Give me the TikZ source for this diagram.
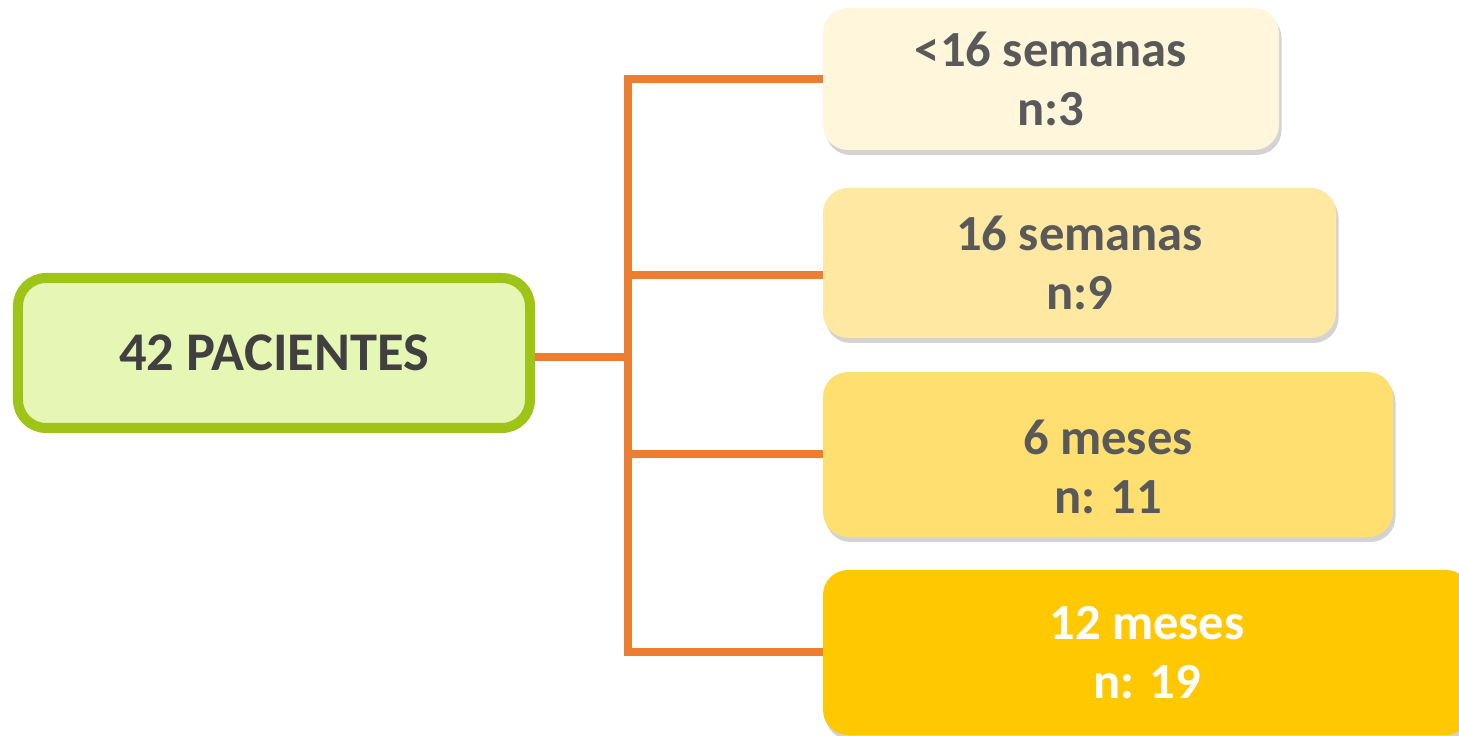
\documentclass[tikz,border=0pt]{standalone}
\usepackage{fontspec}
\setmainfont{Carlito}
\usetikzlibrary{shadows}

\definecolor{linkorange}{HTML}{ED7D31}
\definecolor{rootgreen}{HTML}{9FC418}
\definecolor{rootfill}{HTML}{E6F6B4}
\definecolor{textgrey}{HTML}{595959}
\definecolor{rootgrey}{HTML}{404040}
\definecolor{stageA}{HTML}{FFF6DC}
\definecolor{stageB}{HTML}{FFE9A2}
\definecolor{stageC}{HTML}{FFDF70}
\definecolor{stageD}{HTML}{FFC800}

\begin{document}
\begin{tikzpicture}[%
        font = \bfseries\fontsize{28.8}{33.6}\selectfont,
        stage/.style = {rounded corners=0.5cm, align=center, text=textgrey,
            inner sep=0pt, outer sep=0pt,
            drop shadow={shadow xshift=0.05cm, shadow yshift=-0.1cm, opacity=0.35}},
        link/.style = {draw=linkorange, line width=0.16cm}
    ]
      \useasboundingbox (0,0) rectangle (29.18,14.72);
      % patients in the study
      \node (root) at (5.48,7.66) [draw=rootgreen, line width=0.2cm, fill=rootfill,
          rounded corners=0.56cm, minimum width=10.24cm, minimum height=3cm,
          text=rootgrey, font=\bfseries\fontsize{31}{36}\selectfont] {42 PACIENTES};
      % follow-up groups
      \node (s1) at (21.02,13.14) [stage, fill=stageA, minimum width=9.12cm,
          minimum height=2.84cm] {<16 semanas\\n:3};
      \node (s2) at (21.59,9.46) [stage, fill=stageB, minimum width=10.26cm,
          minimum height=3cm] {16 semanas\\n:9};
      \node (s3) at (22.16,5.63) [stage, fill=stageC, minimum width=11.4cm,
          minimum height=3.3cm] {\rule{0pt}{1.2cm}6 meses\\n: 11};
      \node (s4) at (22.94,1.67) [stage, fill=stageD, minimum width=12.96cm,
          minimum height=3.3cm, text=white] {12 meses\\n: 19};
      % connectors
      \coordinate (spine) at (12.56,7.58);
      \draw[link] (root.east |- spine) -- (spine);
      \draw[link, line cap=rect] (spine |- s1.west) -- (spine |- s4.west);
      \draw[link] (spine |- s1.west) -- (s1.west);
      \draw[link] ([yshift=-0.24cm]spine |- s2.west) -- ([yshift=-0.24cm]s2.west);
      \draw[link] (spine |- s3.west) -- (s3.west);
      \draw[link] (spine |- s4.west) -- (s4.west);
    \end{tikzpicture}
\end{document}
